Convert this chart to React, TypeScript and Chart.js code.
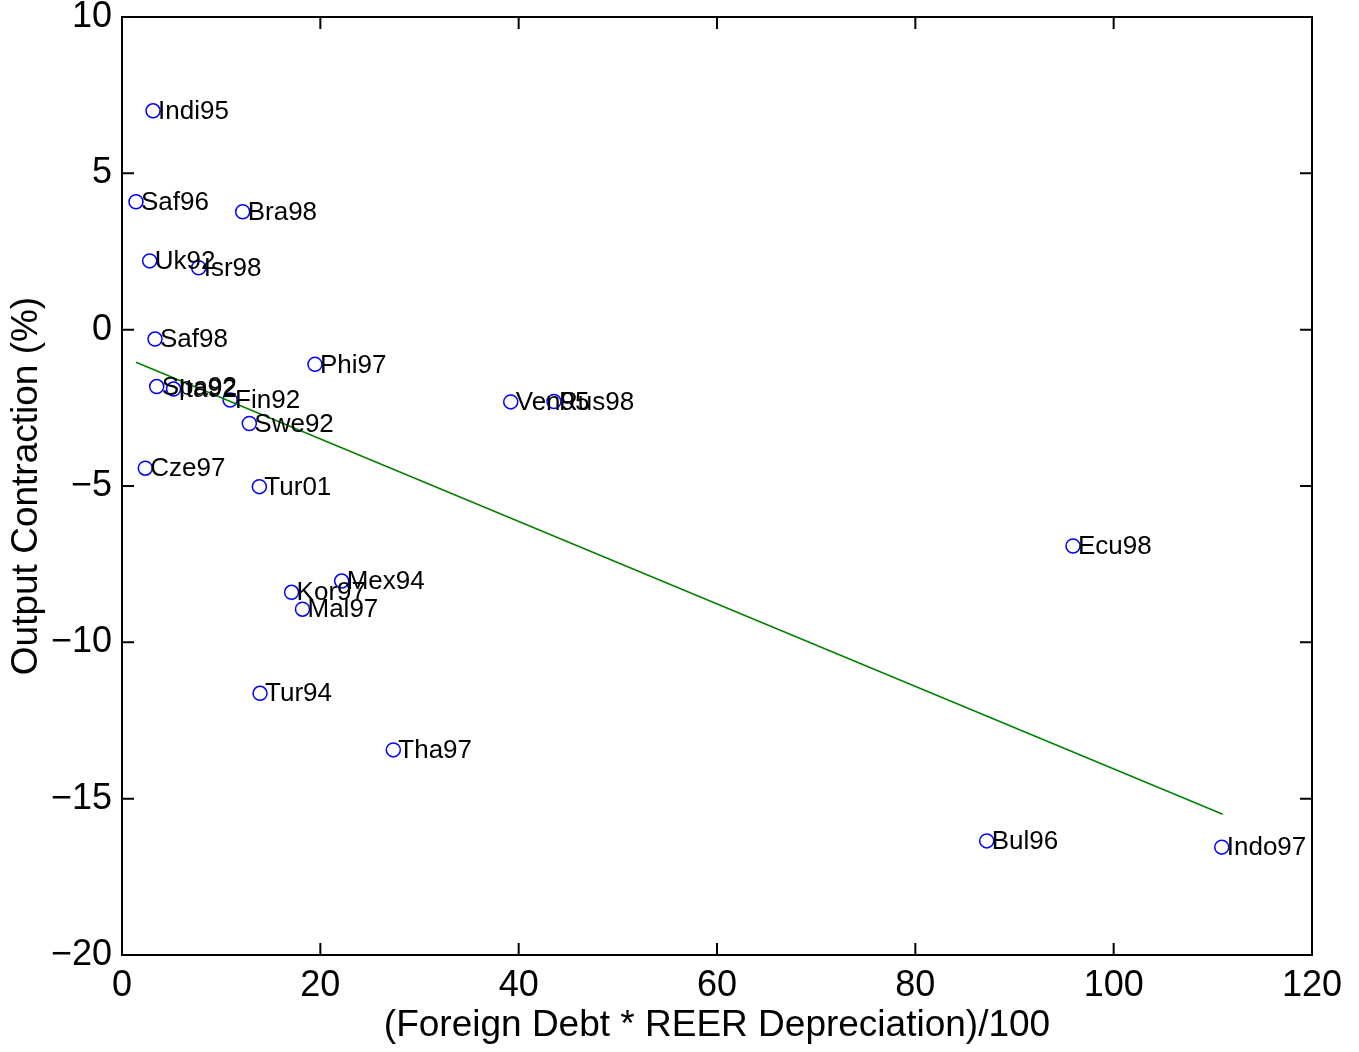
import React, { useEffect, useRef } from "react";
import { Chart, registerables } from "chart.js";

Chart.register(...registerables);

const names = ["Indi95","Saf96","Bra98","Uk92","Isr98","Saf98","Phi97","Spa92","Ita92","Fin92","Swe92","Cze97","Tur01","Ven95","Rus98","Ecu98","Mex94","Kor97","Mal97","Tur94","Tha97","Bul96","Indo97"];
const xValues = [3.13,1.41,12.17,2.79,7.73,3.33,19.46,3.5,5.2,10.9,12.84,2.35,13.85,39.2,43.56,95.9,22.15,17.1,18.2,13.92,27.36,87.2,110.9];
const yValues = [7.0,4.09,3.77,2.2,1.98,-0.3,-1.11,-1.82,-1.9,-2.25,-3.0,-4.43,-5.02,-2.31,-2.3,-6.92,-8.04,-8.4,-8.94,-11.63,-13.44,-16.35,-16.55];
const trendX = [1.41, 111.0];
const trendY = [-1.04, -15.5];
const xTicks = [0, 20, 40, 60, 80, 100, 120];
const yTicks = [-20, -15, -10, -5, 0, 5, 10];
const xTitle = "(Foreign Debt * REER Depreciation)/100";
const yTitle = "Output Contraction (%)";

const FONT = "'Liberation Sans', Arial, Helvetica, sans-serif";

const framePlugin = {
  id: "frameTicks",
  afterDraw(chart: any) {
    const { ctx, chartArea } = chart;
    const xs = chart.scales.x;
    const ys = chart.scales.y;
    const L = 12;
    ctx.save();
    ctx.strokeStyle = "#000";
    ctx.lineWidth = 2;
    ctx.beginPath();
    for (const v of xTicks) {
      const px = xs.getPixelForValue(v);
      ctx.moveTo(px, chartArea.bottom);
      ctx.lineTo(px, chartArea.bottom - L);
      ctx.moveTo(px, chartArea.top);
      ctx.lineTo(px, chartArea.top + L);
    }
    for (const v of yTicks) {
      const py = ys.getPixelForValue(v);
      ctx.moveTo(chartArea.left, py);
      ctx.lineTo(chartArea.left + L, py);
      ctx.moveTo(chartArea.right, py);
      ctx.lineTo(chartArea.right - L, py);
    }
    ctx.stroke();
    ctx.strokeRect(chartArea.left, chartArea.top, chartArea.right - chartArea.left, chartArea.bottom - chartArea.top);
    ctx.restore();
  },
};

const labelPlugin = {
  id: "pointLabels",
  afterDatasetsDraw(chart: any) {
    const { ctx } = chart;
    const xs = chart.scales.x;
    const ys = chart.scales.y;
    ctx.save();
    ctx.font = `26px ${FONT}`;
    ctx.fillStyle = "#000";
    ctx.textAlign = "left";
    ctx.textBaseline = "middle";
    names.forEach((n, i) => {
      const px = xs.getPixelForValue(xValues[i]);
      const py = ys.getPixelForValue(yValues[i]);
      ctx.fillText(n, px + 5, py + 1);
    });
    ctx.restore();
  },
};

const fmt = (v: any) => String(v).replace("-", "\u2212");

export default function App() {
  const ref = useRef<HTMLCanvasElement>(null);
  useEffect(() => {
    document.body.style.margin = "0";
    const canvas = ref.current!;
    const chart = new Chart(canvas, {
      type: "scatter",
      data: {
        datasets: [
          {
            type: "line",
            data: trendX.map((x, i) => ({ x, y: trendY[i] })),
            borderColor: "#008000",
            borderWidth: 1.5,
            pointRadius: 0,
            fill: false,
          } as any,
          {
            data: xValues.map((x, i) => ({ x, y: yValues[i] })),
            borderColor: "#0000ff",
            backgroundColor: "rgba(0,0,0,0)",
            pointRadius: 7,
            pointBorderWidth: 1.5,
            pointStyle: "circle",
          },
        ],
      },
      options: {
        responsive: false,
        animation: false,
        layout: { padding: { top: 17, right: 47, left: 0, bottom: 0 } },
        plugins: { legend: { display: false }, tooltip: { enabled: false } },
        scales: {
          x: {
            type: "linear",
            min: 0,
            max: 120,
            grid: { display: false, drawTicks: false },
            border: { display: false },
            ticks: {
              stepSize: 20,
              autoSkip: false,
              maxRotation: 0,
              padding: 9,
              color: "#000",
              font: { family: FONT, size: 36, lineHeight: 1.2 },
              callback: fmt,
            },
            title: {
              display: true,
              text: xTitle,
              color: "#000",
              font: { family: FONT, size: 37, lineHeight: 1 },
              padding: { top: 0, bottom: 8 },
            },
            afterFit(scale: any) {
              scale.height = 97;
              scale.paddingLeft = 0;
              scale.paddingRight = 0;
            },
          },
          y: {
            type: "linear",
            min: -20,
            max: 10,
            grid: { display: false, drawTicks: false },
            border: { display: false },
            ticks: {
              stepSize: 5,
              autoSkip: false,
              padding: 10,
              color: "#000",
              font: { family: FONT, size: 36, lineHeight: 1.2 },
              callback: fmt,
            },
            title: {
              display: true,
              text: yTitle,
              color: "#000",
              font: { family: FONT, size: 37, lineHeight: 1 },
              padding: { top: 8, bottom: 0 },
            },
            afterFit(scale: any) {
              scale.width = 122;
              scale.paddingTop = 0;
              scale.paddingBottom = 0;
            },
          },
        },
      },
      plugins: [framePlugin, labelPlugin],
    });
    return () => chart.destroy();
  }, []);
  return (
    <canvas
      ref={ref}
      width={1359}
      height={1052}
      style={{ position: "absolute", left: 0, top: 0, display: "block", background: "#fff" }}
    />
  );
}
